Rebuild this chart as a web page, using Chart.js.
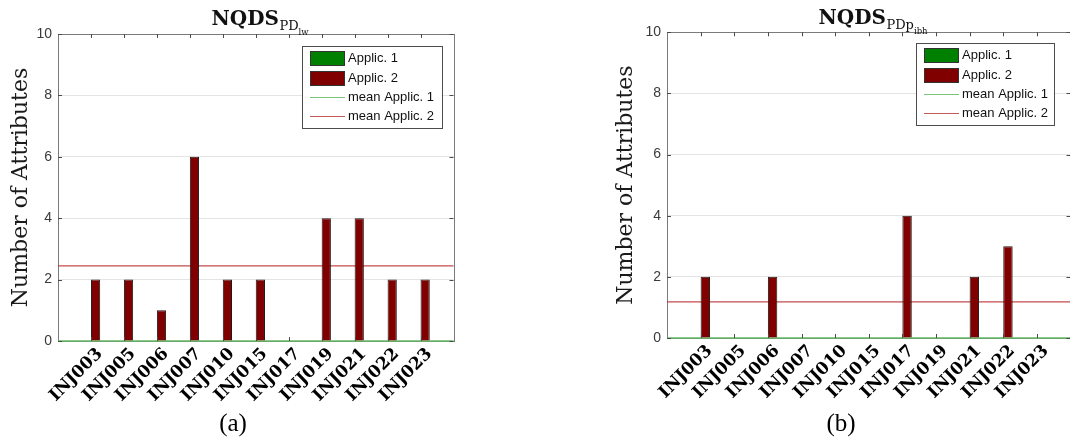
<!DOCTYPE html>
<html>
<head>
<meta charset="utf-8">
<script src="https://cdn.jsdelivr.net/npm/chart.js@4/dist/chart.umd.min.js"></script>
<style>
  html, body { margin: 0; padding: 0; background: #fff; overflow: hidden; width: 1070px; height: 439px; }
  .panel { position: absolute; top: 0; }
  #chartA { left: 0; }
  #chartB { left: 535px; }
  .cap { position: absolute; width: 100px; text-align: center; font-family: "Liberation Serif", serif;
         font-size: 25px; line-height: 25px; color: #000; }
</style>
</head>
<body>
<canvas id="chartA" class="panel" width="535" height="439"></canvas>
<canvas id="chartB" class="panel" width="540" height="439"></canvas>
<div class="cap" style="left:183px; top:410px;">(a)</div>
<div class="cap" style="left:791px; top:410px;">(b)</div>

<script>
// Injectors on the horizontal axis
const injectors = ['INJ003', 'INJ005', 'INJ006', 'INJ007', 'INJ010', 'INJ015',
                   'INJ017', 'INJ019', 'INJ021', 'INJ022', 'INJ023'];

// Number of attributes per injector, PD_lw
const lwApplic1 = [0, 0, 0, 0, 0, 0, 0, 0, 0, 0, 0];
const lwApplic2 = [2, 2, 1, 6, 2, 2, 0, 4, 4, 2, 2];
const lwMeanApplic1 = 0;
const lwMeanApplic2 = 2.45;

// Number of attributes per injector, PDp_ibh
const ibhApplic1 = [0, 0, 0, 0, 0, 0, 0, 0, 0, 0, 0];
const ibhApplic2 = [2, 0, 2, 0, 0, 0, 4, 0, 2, 3, 0];
const ibhMeanApplic1 = 0;
const ibhMeanApplic2 = 1.18;

const yTickValues = [0, 2, 4, 6, 8, 10];
const seriesNames = ['Applic. 1', 'Applic. 2', 'mean Applic. 1', 'mean Applic. 2'];

const GREEN = '#008000';
const DARK_RED = '#800000';
const MEAN_GREEN = '#66b866';
const MEAN_RED = 'rgba(185,45,45,0.85)';
const KEY_COLORS = [GREEN, DARK_RED, '#7cc47c', '#c25a5a'];

// Plot box with inward tick marks on all four sides
const axesBox = {
  id: 'axesBox',
  beforeDatasetsDraw(chart) {
    const { ctx, chartArea: a } = chart;
    ctx.save();
    ctx.strokeStyle = '#7a7a7a';
    ctx.lineWidth = 1;
    ctx.strokeRect(Math.round(a.left) + 0.5, Math.round(a.top) + 0.5,
                   Math.round(a.width), Math.round(a.height));
    ctx.restore();
  },
  afterDatasetsDraw(chart) {
    const { ctx, chartArea: a, scales: { x, y } } = chart;
    const len = 4;
    ctx.save();
    ctx.strokeStyle = '#4a4a4a';
    ctx.lineWidth = 1;
    ctx.beginPath();
    x.ticks.forEach(t => {
      const px = Math.round(x.getPixelForValue(t.value)) + 0.5;
      ctx.moveTo(px, a.bottom); ctx.lineTo(px, a.bottom - len);
      ctx.moveTo(px, a.top); ctx.lineTo(px, a.top + len);
    });
    y.ticks.forEach(t => {
      const py = Math.round(y.getPixelForValue(t.value)) + 0.5;
      ctx.moveTo(a.left, py); ctx.lineTo(a.left + len, py);
      ctx.moveTo(a.right, py); ctx.lineTo(a.right - len, py);
    });
    ctx.stroke();
    ctx.restore();
  }
};

// Title with nested subscripts: NQDS_{sub_{subsub}}
const subTitle = {
  id: 'subTitle',
  afterDraw(chart, args, opts) {
    const { ctx, chartArea: a } = chart;
    const fMain = 'bold 20px "DejaVu Serif"';
    const fSub = '13px "DejaVu Serif"';
    const fSubSub = '8.5px "DejaVu Serif"';
    ctx.save();
    ctx.fillStyle = '#111';
    ctx.textBaseline = 'alphabetic';
    ctx.textAlign = 'left';
    ctx.font = fMain; const w1 = ctx.measureText(opts.main).width;
    ctx.font = fSub; const w2 = ctx.measureText(opts.sub).width;
    ctx.font = fSubSub; const w3 = ctx.measureText(opts.subsub).width;
    let x0 = (a.left + a.right) / 2 - (w1 + w2 + w3) / 2 + (opts.shift || 0);
    const base = a.top - opts.lift;
    ctx.font = fMain; ctx.fillText(opts.main, x0, base); x0 += w1 + 0.5;
    ctx.font = fSub; ctx.fillText(opts.sub, x0, base + 5); x0 += w2;
    ctx.font = fSubSub; ctx.fillText(opts.subsub, x0, base + 9.5);
    ctx.restore();
  }
};

// Boxed legend in the upper right corner of the plot
const boxLegend = {
  id: 'boxLegend',
  afterDraw(chart, args, opts) {
    const { ctx, chartArea: a } = chart;
    const w = opts.width, h = 81.5;
    const left = Math.round(a.right - opts.right - w);
    const top = Math.round(a.top + opts.top);
    ctx.save();
    ctx.fillStyle = '#fff';
    ctx.fillRect(left, top, w, h);
    ctx.strokeStyle = '#4d4d4d';
    ctx.lineWidth = 1;
    ctx.strokeRect(left + 0.5, top + 0.5, Math.round(w), Math.round(h));
    ctx.font = '13px "Liberation Sans"';
    ctx.textBaseline = 'middle';
    chart.data.datasets.forEach((ds, i) => {
      const cy = Math.round(top + 12.3 + 19.2 * i);
      const sx = left + 8;
      ctx.lineWidth = 1;
      if (ds.type === 'bar') {
        ctx.fillStyle = KEY_COLORS[i];
        ctx.fillRect(sx, cy - 7, 34, 14);
        ctx.strokeStyle = '#333';
        ctx.strokeRect(sx + 0.5, cy - 7 + 0.5, 34, 14);
      } else {
        ctx.strokeStyle = KEY_COLORS[i];
        ctx.beginPath();
        ctx.moveTo(sx, cy + 0.5);
        ctx.lineTo(sx + 35, cy + 0.5);
        ctx.stroke();
      }
      ctx.fillStyle = '#111';
      ctx.fillText(ds.label, left + 46, cy + 0.5);
    });
    ctx.restore();
  }
};

function buildPanel(canvasId, applic1, applic2, mean1, mean2, geom, title) {
  const barPoints = vals => vals.map((v, i) => ({ x: i + 1, y: v }));
  const meanLine = m => [{ x: 0, y: m }, { x: injectors.length + 1, y: m }];
  return new Chart(document.getElementById(canvasId), {
    data: {
      datasets: [
        { type: 'bar', label: seriesNames[0], data: barPoints(applic1), backgroundColor: GREEN,
          borderColor: '#1a1a1a', borderWidth: 1, order: 1 },
        { type: 'bar', label: seriesNames[1], data: barPoints(applic2), backgroundColor: DARK_RED,
          borderColor: '#1a1a1a', borderWidth: 1, order: 1 },
        { type: 'line', label: seriesNames[2], data: meanLine(mean1), borderColor: MEAN_GREEN,
          borderWidth: 1.6, pointRadius: 0, order: 2, clip: 4 },
        { type: 'line', label: seriesNames[3], data: meanLine(mean2), borderColor: MEAN_RED,
          borderWidth: 1.2, pointRadius: 0, order: 2, clip: 4 }
      ]
    },
    options: {
      responsive: false,
      animation: false,
      layout: { padding: { left: geom.padLeft, top: geom.top, right: geom.padRight, bottom: 0 } },
      datasets: { bar: { categoryPercentage: 0.56, barPercentage: 1, grouped: true } },
      plugins: {
        legend: { display: false },
        tooltip: { enabled: false },
        subTitle: title,
        boxLegend: geom.legend
      },
      scales: {
        x: {
          type: 'linear', min: 0, max: injectors.length + 1, offset: false,
          afterBuildTicks: s => { s.ticks = injectors.map((_, i) => ({ value: i + 1 })); },
          ticks: {
            autoSkip: false, maxRotation: 45, minRotation: 45, padding: -5, labelOffset: 9,
            color: '#000',
            font: { family: 'DejaVu Serif', weight: 'bold', size: 17 },
            callback: v => injectors[Math.round(v) - 1] ?? ''
          },
          grid: { display: false },
          border: { display: false },
          afterFit: s => { s.height = geom.xHeight; }
        },
        y: {
          min: 0, max: 10,
          afterBuildTicks: s => { s.ticks = yTickValues.map(v => ({ value: v })); },
          ticks: { padding: 6, color: '#3a3a3a', font: { family: 'Liberation Sans', size: 14 } },
          grid: { color: '#e4e4e4', lineWidth: 1, drawTicks: false },
          border: { display: false },
          title: {
            display: true, text: 'Number of Attributes', color: '#1a1a1a',
            font: { family: 'DejaVu Serif', size: 22 }, padding: { top: 8, bottom: 0 }
          },
          afterFit: s => { s.width = geom.yWidth; }
        }
      }
    },
    plugins: [axesBox, subTitle, boxLegend]
  });
}

buildPanel('chartA', lwApplic1, lwApplic2, lwMeanApplic1, lwMeanApplic2,
  { padLeft: 0, top: 34, padRight: 81.5, yWidth: 58, xHeight: 98,
    legend: { right: 11.8, top: 11.7, width: 139.5 } },
  { main: 'NQDS', sub: 'PD', subsub: 'lw', lift: 9, shift: 4 });

buildPanel('chartB', ibhApplic1, ibhApplic2, ibhMeanApplic1, ibhMeanApplic2,
  { padLeft: 70, top: 32.3, padRight: 4.5, yWidth: 62, xHeight: 101,
    legend: { right: 17.5, top: 10.4, width: 137.5 } },
  { main: 'NQDS', sub: 'PDp', subsub: 'ibh', lift: 8.3, shift: 4 });
</script>
</body>
</html>
